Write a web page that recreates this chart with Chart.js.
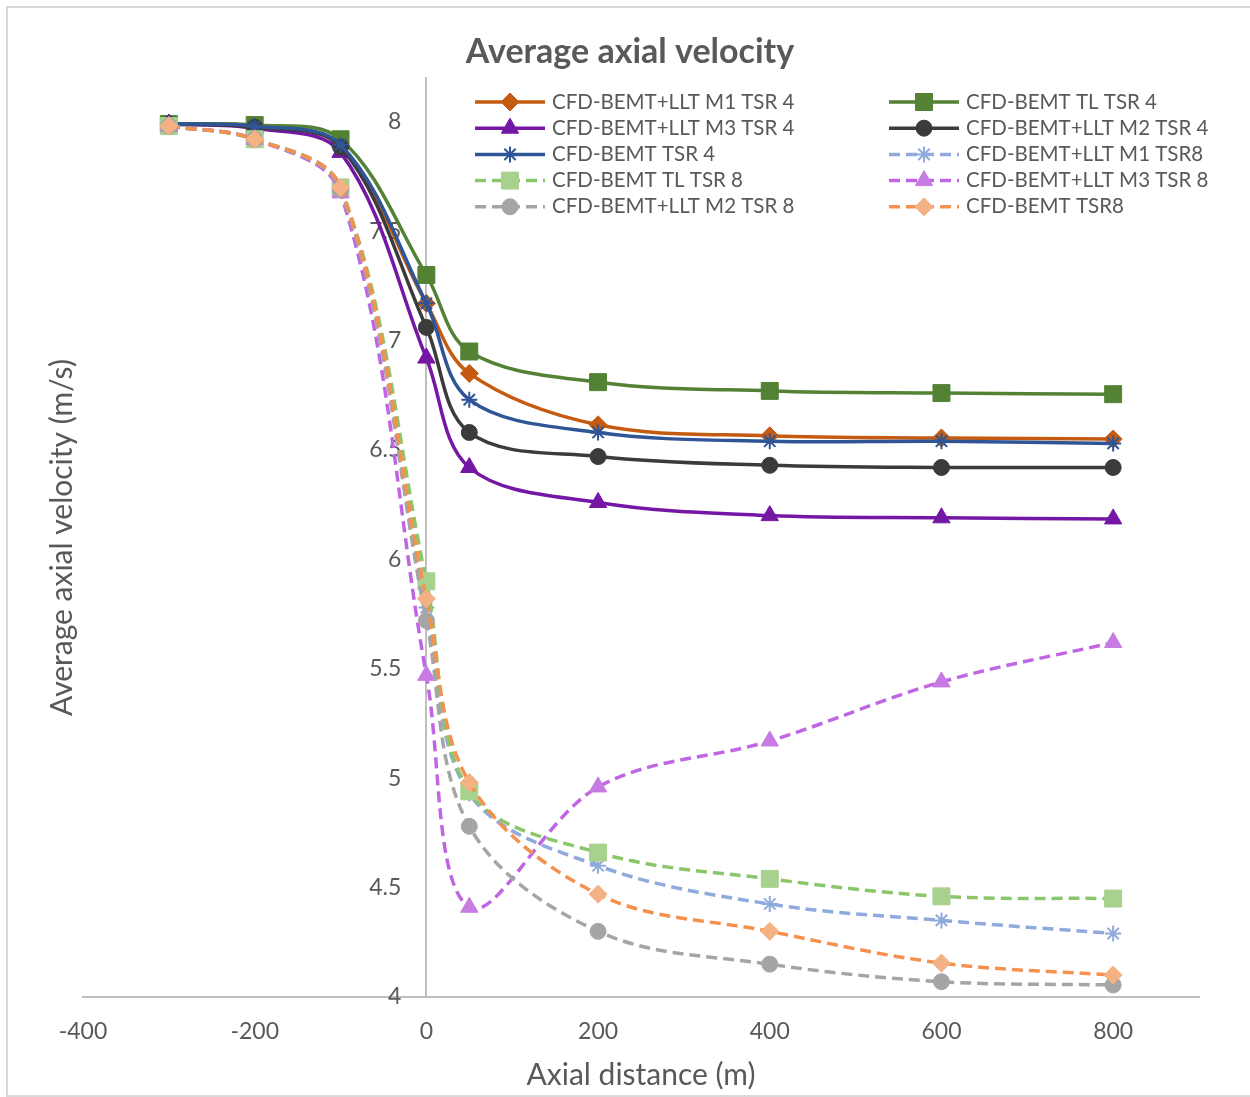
<!DOCTYPE html>
<html>
<head>
<meta charset="utf-8">
<script src="https://cdn.jsdelivr.net/npm/chart.js@4.4.1/dist/chart.umd.min.js"></script>
<style>
  body { margin: 0; background: #fff; }
  canvas { display: block; }
</style>
</head>
<body>
<canvas id="grvelocidad" width="1250" height="1097"></canvas>
<script>
// distancias axiales (m)
const distancias = [-300, -200, -100, 0, 50, 200, 400, 600, 800];

// TSR 4
const m1Tsr4 = [7.99, 7.98, 7.89, 7.17, 6.85, 6.615, 6.565, 6.555, 6.55];
const tlTsr4 = [7.99, 7.985, 7.92, 7.30, 6.95, 6.81, 6.77, 6.76, 6.755];
const m3Tsr4 = [7.99, 7.97, 7.86, 6.92, 6.42, 6.26, 6.20, 6.19, 6.185];
const m2Tsr4 = [7.99, 7.975, 7.885, 7.06, 6.58, 6.47, 6.43, 6.42, 6.42];
const bemtTsr4 = [7.99, 7.98, 7.895, 7.17, 6.73, 6.58, 6.54, 6.54, 6.53];

// TSR 8
const m1Tsr8 = [7.98, 7.92, 7.70, 5.78, 4.93, 4.60, 4.425, 4.35, 4.29];
const tlTsr8 = [7.98, 7.92, 7.70, 5.90, 4.94, 4.66, 4.54, 4.46, 4.45];
const m3Tsr8 = [7.98, 7.92, 7.675, 5.47, 4.41, 4.96, 5.17, 5.44, 5.62];
const m2Tsr8 = [7.98, 7.92, 7.69, 5.72, 4.78, 4.30, 4.15, 4.07, 4.055];
const bemtTsr8 = [7.98, 7.92, 7.70, 5.82, 4.98, 4.47, 4.30, 4.155, 4.10];

const etiquetas = [
    'CFD-BEMT+LLT M1 TSR 4', 'CFD-BEMT TL TSR 4',
    'CFD-BEMT+LLT M3 TSR 4', 'CFD-BEMT+LLT M2 TSR 4',
    'CFD-BEMT TSR 4', 'CFD-BEMT+LLT M1 TSR8',
    'CFD-BEMT TL TSR 8', 'CFD-BEMT+LLT M3 TSR 8',
    'CFD-BEMT+LLT M2 TSR 8', 'CFD-BEMT TSR8'
];
const valores = [m1Tsr4, tlTsr4, m3Tsr4, m2Tsr4, bemtTsr4, m1Tsr8, tlTsr8, m3Tsr8, m2Tsr8, bemtTsr8];

const titulo = 'Average axial velocity';
const gris = '#595959';
const fuente = 'Lato';

function serie(i, linea, marca, forma, radio, punteada) {
    return {
        label: etiquetas[i],
        data: valores[i].map((v, j) => ({ x: distancias[j], y: v })),
        yAxisID: 'y',
        borderColor: linea,
        backgroundColor: marca,
        borderWidth: 3.5,
        borderDash: punteada ? [11, 6] : [],
        tension: 0.35,
        fill: false,
        pointStyle: forma,
        pointRadius: radio,
        pointBackgroundColor: marca,
        pointBorderColor: marca,
        pointBorderWidth: forma === 'star' ? 2 : 1,
        // las series posteriores se dibujan encima
        order: 10 - i
    };
}

const series = [
    serie(0, '#C55A11', '#C55A11', 'rectRot', 9, false),
    serie(1, '#548235', '#548235', 'rect', 12, false),
    serie(2, '#7517A5', '#7517A5', 'triangle', 10, false),
    serie(3, '#3B3B3B', '#3B3B3B', 'circle', 8, false),
    serie(4, '#2F5597', '#2F5597', 'star', 8, false),
    serie(5, '#8FAADC', '#8FAADC', 'star', 8, true),
    serie(6, '#8CC66A', '#A9D18E', 'rect', 12, true),
    serie(7, '#C066E3', '#C77CE3', 'triangle', 10, true),
    serie(8, '#A5A5A5', '#A5A5A5', 'circle', 8, true),
    serie(9, '#F4914F', '#F4B183', 'rectRot', 9, true)
];

// titulo, leyenda en dos columnas y marco exterior
const adornos = {
    id: 'adornos',
    beforeDraw(chart) {
        const ctx = chart.ctx;
        ctx.save();
        ctx.fillStyle = '#fff';
        ctx.fillRect(0, 0, chart.width, chart.height);
        ctx.strokeStyle = '#D9D9D9';
        ctx.lineWidth = 2;
        ctx.strokeRect(7, 7, chart.width, chart.height - 8);
        ctx.restore();

        // etiquetas del eje Y a la izquierda de la linea x = 0
        const items = chart.scales.y.getLabelItems();
        if (!items._movidas) {
            items.forEach(it => { it.options.translation[0] -= 25; });
            items._movidas = true;
        }
    },
    afterDraw(chart) {
        const ctx = chart.ctx;
        ctx.save();
        ctx.fillStyle = gris;
        ctx.textAlign = 'center';
        ctx.textBaseline = 'middle';
        ctx.font = 'bold 34px ' + fuente;
        ctx.fillText(titulo, 630, 52);

        ctx.textAlign = 'left';
        ctx.font = '20.5px ' + fuente;
        chart.data.datasets.forEach((ds, i) => {
            const x0 = i % 2 ? 889 : 475;
            const y = 102 + Math.floor(i / 2) * 26.2;
            ctx.save();
            ctx.strokeStyle = ds.borderColor;
            ctx.lineWidth = ds.borderWidth;
            ctx.setLineDash(ds.borderDash);
            ctx.beginPath();
            ctx.moveTo(x0, y);
            ctx.lineTo(x0 + 70, y);
            ctx.stroke();
            ctx.setLineDash([]);
            ctx.fillStyle = ds.pointBackgroundColor;
            ctx.strokeStyle = ds.pointBorderColor;
            ctx.lineWidth = ds.pointBorderWidth;
            Chart.helpers.drawPoint(ctx, {
                pointStyle: ds.pointStyle,
                radius: ds.pointRadius,
                borderWidth: ds.pointBorderWidth,
                rotation: 0
            }, x0 + 35, y);
            ctx.restore();
            ctx.fillStyle = gris;
            ctx.fillText(ds.label, x0 + 77, y);
        });
        ctx.restore();
    }
};

const grafico = document.getElementById('grvelocidad');

new Chart(grafico, {
    type: 'line',
    data: { datasets: series },
    plugins: [adornos],
    options: {
        responsive: false,
        animation: false,
        layout: { padding: { left: 0, right: 51, top: 78, bottom: 0 } },
        plugins: {
            legend: { display: false },
            tooltip: { enabled: false },
            title: { display: false }
        },
        scales: {
            x: {
                type: 'linear',
                position: 'bottom',
                min: -400,
                max: 900,
                ticks: {
                    stepSize: 200,
                    includeBounds: false,
                    padding: 21,
                    color: gris,
                    font: { family: fuente, size: 23 }
                },
                grid: { color: 'rgba(0,0,0,0)', drawTicks: false },
                border: { color: '#BFBFBF', width: 2 },
                title: {
                    display: true,
                    text: 'Axial distance (m)',
                    color: gris,
                    font: { family: fuente, size: 30 },
                    padding: { top: 0, bottom: 4 }
                },
                afterFit: (escala) => { escala.height = 100; }
            },
            y: {
                type: 'linear',
                position: { x: 0 },
                min: 4,
                max: 8.2,
                ticks: {
                    stepSize: 0.5,
                    includeBounds: false,
                    color: gris,
                    font: { family: fuente, size: 23 },
                    callback: (v) => String(v)
                },
                grid: { color: 'rgba(0,0,0,0)', drawTicks: false },
                border: { color: '#BFBFBF', width: 2 }
            },
            yTitulo: {
                axis: 'y',
                type: 'linear',
                position: 'left',
                ticks: { display: false },
                grid: { display: false, drawTicks: false },
                border: { display: false },
                title: {
                    display: true,
                    text: 'Average axial velocity (m/s)',
                    color: gris,
                    font: { family: fuente, size: 30 },
                    padding: { top: 44, bottom: 0 }
                },
                afterFit: (escala) => { escala.width = 83; }
            }
        }
    }
});
</script>
</body>
</html>
